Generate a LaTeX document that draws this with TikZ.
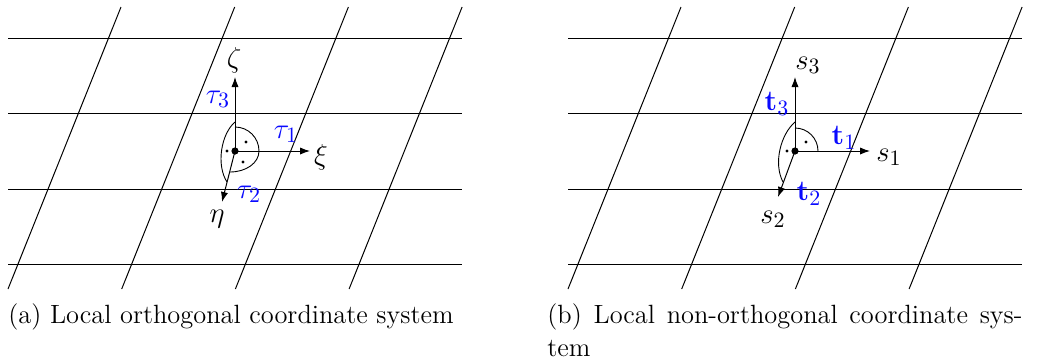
\documentclass[tikz,border=0pt]{standalone}
\usetikzlibrary{arrows.meta}
\definecolor{lblue}{RGB}{10,10,255}
\begin{document}
\begin{tikzpicture}[x=0.5pt,y=-0.5pt,
  gridline/.style={line width=0.5pt},
  axis/.style={line width=0.5pt,-{Latex[length=5pt,width=3.6pt]}},
  anglearc/.style={line width=0.45pt},
  smalldot/.style={fill=black,draw=none},
  vlabel/.style={text=lblue,inner sep=0pt,font=\fontsize{15}{17}\selectfont},
  alabel/.style={inner sep=0pt,font=\fontsize{15}{17}\selectfont},
  captext/.style={inner sep=0pt,font=\fontsize{13.2}{15}\selectfont}]
\useasboundingbox (0,0) rectangle (1046,361);
% ---------- panel (a) ----------
\begin{scope}
  \foreach \y in {38,113,189,264} \draw[gridline] (8,\y) -- (462,\y);
  \foreach \k in {0,...,3} \draw[gridline] ({121+113.7*\k},7) -- ({8+113.7*\k},289);
  \coordinate (aO) at (235,151);
  \coordinate (aZ) at (235,77);
  \coordinate (aX) at (310,151);
  \coordinate (aE) at (222,202);
  \draw[axis] (aO) -- (aZ);
  \draw[axis] (aO) -- (aX);
  \draw[axis] (aO) -- (aE);
  \draw[anglearc] (259,151) .. controls (259,137.7) and (248.3,127) .. (235,127);
  \draw[anglearc] (259,151) .. controls (259,163) and (246,172) .. (230,172);
  \draw[anglearc] (235,122) .. controls (221,134) and (216,165) .. (227,182);
  \fill[smalldot] (246,142) circle[radius=1.6];
  \fill[smalldot] (227,151) circle[radius=1.6];
  \fill[smalldot] (243,162) circle[radius=1.6];
  \fill (aO) circle[radius=3.6];
  \node[alabel] (lz) at (234,60) {$\zeta$};
  \node[alabel] (lx) at (321,157) {$\xi$};
  \node[alabel] (le) at (217,219) {$\eta$};
  \node[vlabel] (lt3) at (218,99) {$\tau_3$};
  \node[vlabel] (lt1) at (286,134) {$\tau_1$};
  \node[vlabel] (lt2) at (249,194) {$\tau_2$};
  \node[captext,anchor=base west] (capa) at (8,323) {(a) Local orthogonal coordinate system};
\end{scope}
% ---------- panel (b) ----------
\begin{scope}[shift={(560,0)}]
  \foreach \y in {38,113,189,264} \draw[gridline] (8,\y) -- (462,\y);
  \foreach \k in {0,...,3} \draw[gridline] ({121+113.7*\k},7) -- ({8+113.7*\k},289);
  \coordinate (bO) at (235,151);
  \coordinate (bZ) at (235,77);
  \coordinate (bX) at (310,151);
  \coordinate (bE) at (218,197);
  \draw[axis] (bO) -- (bZ);
  \draw[axis] (bO) -- (bX);
  \draw[axis] (bO) -- (bE);
  \draw[anglearc] (258,151) .. controls (258,138.3) and (247.7,128) .. (235,128);
  \draw[anglearc] (235,122) .. controls (221,134) and (213,163) .. (223,182);
  \fill[smalldot] (246,142) circle[radius=1.6];
  \fill[smalldot] (227,151) circle[radius=1.6];
  \fill (bO) circle[radius=3.6];
  \node[alabel] (ls3) at (248,65) {$s_3$};
  \node[alabel] (ls1) at (329,157) {$s_1$};
  \node[alabel] (ls2) at (213,219) {$s_2$};
  \node[vlabel] (lb3) at (217,104) {$\mathbf{t}_3$};
  \node[vlabel] (lb1) at (284,138) {$\mathbf{t}_1$};
  \node[vlabel] (lb2) at (249,194) {$\mathbf{t}_2$};
  \node[captext,anchor=base west] (capb1) at (-13,323) {\makebox[237.5pt][s]{(b) Local non-orthogonal coordinate sys-}};
  \node[captext,anchor=base west] (capb2) at (-13,356) {tem};
\end{scope}
\end{tikzpicture}
\end{document}
